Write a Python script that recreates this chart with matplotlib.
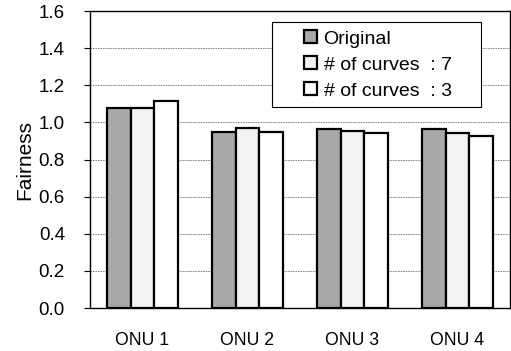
import numpy as np
import matplotlib.pyplot as plt
from matplotlib.patches import Rectangle

plt.rcParams['font.family'] = ['Liberation Sans', 'DejaVu Sans']

categories = ["ONU 1", "ONU 2", "ONU 3", "ONU 4"]
series_names = ["Original", "# of curves  : 7", "# of curves  : 3"]
original = [1.08, 0.946, 0.964, 0.966]
curves7 = [1.076, 0.971, 0.955, 0.945]
curves3 = [1.117, 0.948, 0.941, 0.929]
y_ticks = [0.0, 0.2, 0.4, 0.6, 0.8, 1.0, 1.2, 1.4, 1.6]

fig = plt.figure(figsize=(5.11, 3.51), dpi=100)
ax = fig.add_axes([0.176, 0.1225, 0.822, 0.846])

x = np.arange(len(categories))
w = 0.225
colors = ["#a8a8a8", "#f2f2f2", "white"]
for i, (vals, name) in enumerate(zip([original, curves7, curves3], series_names)):
    ax.bar(x + (i - 1) * w, vals, width=w, color=colors[i], edgecolor="black",
           linewidth=1.6, label=name, zorder=3)

ax.set_xlim(-0.5, 3.5)
ax.set_ylim(0, 1.6)
ax.set_yticks(y_ticks)
ax.set_yticklabels([f"{t:.1f}" for t in y_ticks], fontsize=13.5)
ax.set_xticks(x)
ax.set_xticklabels(categories, fontsize=12.7)
ax.tick_params(axis="x", length=0, pad=17)
ax.tick_params(axis="y", length=4, direction="out", pad=14)
ax.set_ylabel("Fairness", fontsize=15, labelpad=3)
ax.yaxis.grid(True, color="#777777", linestyle=(0, (2, 1)), linewidth=0.6, zorder=0)
for sp in ax.spines.values():
    sp.set_linewidth(1.0)

# legend box is wider than its content, so draw the frame separately
ax.add_patch(Rectangle((0.433, 0.677), 0.498, 0.286, transform=ax.transAxes,
                       facecolor="white", edgecolor="black", linewidth=0.8, zorder=4))
leg = ax.legend(loc="upper left", bbox_to_anchor=(0.51, 0.935), fontsize=14,
                frameon=False, handlelength=0.65, handleheight=0.65, handletextpad=0.35,
                labelspacing=0.45, borderpad=0, borderaxespad=0)
leg.set_zorder(5)

fig.savefig("out.png", dpi=100)
